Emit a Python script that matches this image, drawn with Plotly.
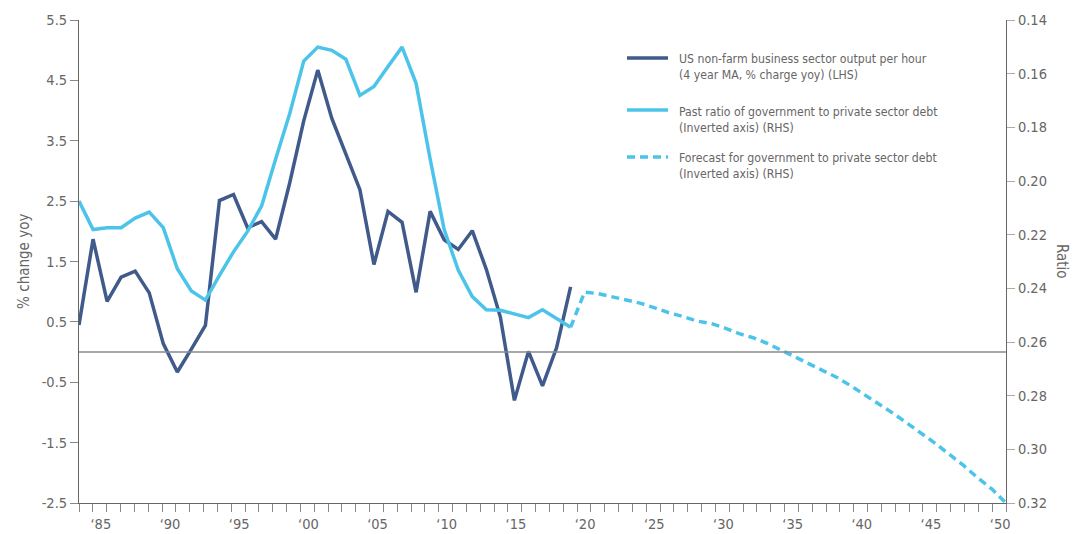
import plotly.graph_objects as go

# ---- data ----
years_hist = list(range(1984, 2020))
productivity = [0.45, 1.87, 0.84, 1.24, 1.34, 0.98, 0.14, -0.33, 0.05, 0.44,
                2.51, 2.61, 2.06, 2.16, 1.87, 2.80, 3.83, 4.67, 3.87, 3.28,
                2.69, 1.45, 2.33, 2.15, 0.99, 2.33, 1.86, 1.70, 2.01, 1.37,
                0.58, -0.80, 0.01, -0.56, 0.07, 1.08]
debt_ratio_past = [0.2075, 0.2181, 0.2174, 0.2174, 0.2138, 0.2116, 0.2174, 0.2327,
                   0.2410, 0.2444, 0.2352, 0.2264, 0.2188, 0.2093, 0.1918, 0.1749,
                   0.1553, 0.1501, 0.1513, 0.1546, 0.1681, 0.1648, 0.1573, 0.1501,
                   0.1636, 0.1918, 0.2181, 0.2332, 0.2431, 0.2480, 0.2482, 0.2496,
                   0.2509, 0.2480, 0.2512, 0.2545]
years_fc = list(range(2019, 2051))
debt_ratio_fc = [0.2545, 0.2414, 0.2420, 0.2431, 0.2445, 0.2456, 0.2473, 0.2491,
                 0.2505, 0.2522, 0.2531, 0.2548, 0.2569, 0.2584, 0.2605, 0.2631,
                 0.2656, 0.2684, 0.2709, 0.2733, 0.2765, 0.2798, 0.2833, 0.2867,
                 0.2904, 0.2941, 0.2979, 0.3020, 0.3061, 0.3107, 0.3148, 0.3200]

categories = list(range(1984, 2051))
label_years = list(range(1985, 2051, 5))
left_ticks = [-2.5, -1.5, -0.5, 0.5, 1.5, 2.5, 3.5, 4.5, 5.5]
right_ticks = [0.14, 0.16, 0.18, 0.20, 0.22, 0.24, 0.26, 0.28, 0.30, 0.32]

legend_labels = ["US non-farm business sector output per hour<br>(4 year MA, % charge yoy) (LHS)",
                 "Past ratio of government to private sector debt<br>(Inverted axis) (RHS)",
                 "Forecast for government to private sector debt<br>(Inverted axis) (RHS)"]

DARK = "#3f5a8b"
LIGHT = "#4cc4ea"
GREY = "#666666"
FONT = "DejaVu Sans Condensed, Roboto Condensed, Liberation Sans Narrow, Roboto, sans-serif"
TICK_SIZE = 14.5

fig = go.Figure()
fig.add_trace(go.Scatter(x=years_hist, y=productivity, mode="lines",
                         line=dict(color=DARK, width=3.5), showlegend=False, yaxis="y"))
fig.add_trace(go.Scatter(x=years_hist, y=debt_ratio_past, mode="lines",
                         line=dict(color=LIGHT, width=3.5), showlegend=False, yaxis="y2"))
fig.add_trace(go.Scatter(x=years_fc, y=debt_ratio_fc, mode="lines",
                         line=dict(color=LIGHT, width=3.5, dash="8px,5px"),
                         showlegend=False, yaxis="y2"))

# category boundaries (ticks) spread evenly across the axis
n = len(categories)
span = categories[-1] - categories[0]
tickvals = [categories[0] + k * span / n for k in range(n + 1)]
ticktext = []
for k in range(n + 1):
    if k < n and categories[k] in label_years:
        ticktext.append("\u2018%02d" % (categories[k] % 100))
    else:
        ticktext.append("")

fig.update_layout(
    width=1088, height=534,
    margin=dict(l=79, r=82, t=20, b=31, autoexpand=False),
    paper_bgcolor="white", plot_bgcolor="white",
    font=dict(family=FONT, color=GREY, size=TICK_SIZE),
    xaxis=dict(range=[categories[0], categories[-1]], tickmode="array",
               tickvals=tickvals, ticktext=ticktext, ticks="outside", ticklen=8,
               tickcolor="#888888", tickwidth=1, showgrid=False, zeroline=False,
               showline=True, linecolor=GREY, linewidth=1, automargin=False,
               ticklabelshift=8, ticklabelstandoff=0,
               tickfont=dict(size=TICK_SIZE, color=GREY)),
    yaxis=dict(range=[-2.5, 5.5], tickmode="array", tickvals=left_ticks,
               ticktext=["%.1f" % v for v in left_ticks], ticks="outside",
               ticklen=8, tickcolor="#888888", showgrid=False, zeroline=False,
               showline=True, linecolor=GREY, linewidth=1, automargin=False,
               tickfont=dict(size=TICK_SIZE, color=GREY)),
    yaxis2=dict(range=[0.32, 0.14], overlaying="y", side="right", tickmode="array",
                tickvals=right_ticks, ticktext=["%.2f" % v for v in right_ticks],
                ticks="outside", ticklen=8, tickcolor="#aaaaaa", showgrid=False,
                zeroline=False, showline=True, linecolor=GREY, linewidth=1,
                automargin=False, tickfont=dict(size=TICK_SIZE, color=GREY)),
    showlegend=False,
)

# zero line
fig.add_shape(type="line", xref="paper", yref="y", x0=0, x1=1, y0=0, y1=0,
              line=dict(color="#8a8a8a", width=1.5))

# axis titles
fig.add_annotation(text="% change yoy", xref="paper", yref="paper", x=-0.060, y=0.5,
                   textangle=-90, showarrow=False, font=dict(size=15, color=GREY),
                   xanchor="center", yanchor="middle")
fig.add_annotation(text="Ratio", xref="paper", yref="paper", x=1.061, y=0.5,
                   textangle=90, showarrow=False, font=dict(size=15, color=GREY),
                   xanchor="center", yanchor="middle")

# legend (manual)
W, H = 927.0, 483.0
def px_x(p):
    return (p - 79) / W
def px_y(p):
    return (503 - p) / H

legend_styles = [dict(color=DARK, width=3.5), dict(color=LIGHT, width=3.5),
                 dict(color=LIGHT, width=3.5, dash="8px,5px")]
line_y = [58, 110, 157]
text_y = [67, 120, 166]
for lbl, st, ly, ty in zip(legend_labels, legend_styles, line_y, text_y):
    fig.add_shape(type="line", xref="paper", yref="paper", x0=px_x(627), x1=px_x(668),
                  y0=px_y(ly), y1=px_y(ly), line=st)
    fig.add_annotation(text=lbl, xref="paper", yref="paper", x=px_x(677), y=px_y(ty),
                       xanchor="left", yanchor="middle", align="left", showarrow=False,
                       font=dict(size=12.2, color=GREY))

fig.write_html("out.html", config={"displayModeBar": False},
               post_script="document.body.style.margin='0px';document.body.style.overflow='hidden';")
